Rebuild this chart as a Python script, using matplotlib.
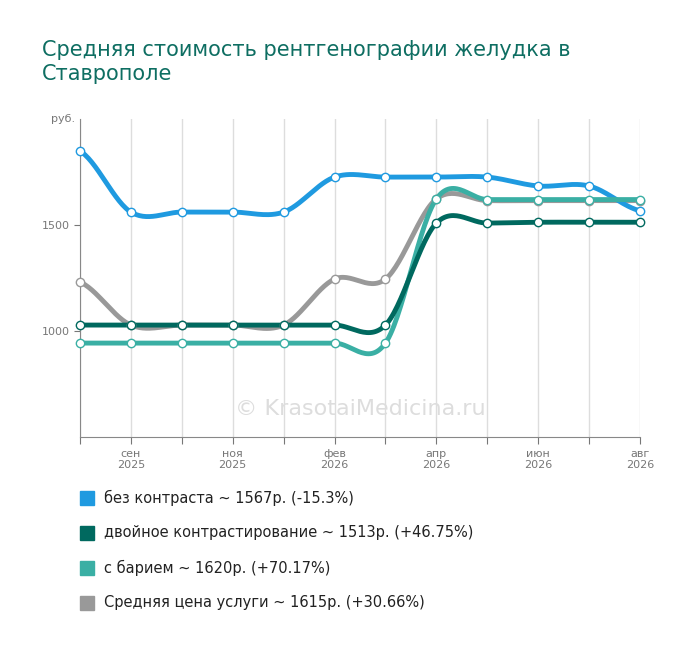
import numpy as np
import matplotlib
matplotlib.use("Agg")
import matplotlib.pyplot as plt

tick_labels = ["", "сен\n2025", "", "ноя\n2025", "", "фев\n2026", "", "апр\n2026", "", "июн\n2026", "", "авг\n2026"]
bez = [1849, 1561, 1561, 1561, 1561, 1726, 1726, 1726, 1726, 1684, 1684, 1567]
dvoin = [1028, 1028, 1028, 1028, 1028, 1028, 1028, 1509, 1509, 1513, 1513, 1513]
bariy = [943, 943, 943, 943, 943, 943, 943, 1623, 1620, 1620, 1620, 1620]
sred = [1231, 1028, 1028, 1028, 1028, 1245, 1245, 1623, 1615, 1615, 1615, 1615]
names = ["без контраста ~ 1567р. (-15.3%)", "двойное контрастирование ~ 1513р. (+46.75%)",
         "с барием ~ 1620р. (+70.17%)", "Средняя цена услуги ~ 1615р. (+30.66%)"]
colors = ["#1f9ae0", "#00695f", "#3aafa4", "#999999"]

def smooth(y, n=30):
    y = np.asarray(y, float)
    p = np.concatenate([[y[0]], y, [y[-1]]])
    xs, ys = [], []
    for i in range(len(y) - 1):
        p0, p1, p2, p3 = p[i], p[i+1], p[i+2], p[i+3]
        t = np.linspace(0, 1, n, endpoint=False)
        ys.append(0.5*((2*p1) + (-p0+p2)*t + (2*p0-5*p1+4*p2-p3)*t**2 + (-p0+3*p1-3*p2+p3)*t**3))
        xs.append(i + t)
    xs.append([len(y)-1]); ys.append([y[-1]])
    return np.concatenate(xs), np.concatenate(ys)

fig = plt.figure(figsize=(7, 6.5), dpi=100)
ax = fig.add_axes([80/700, 1-437/650, 560/700, 318/650])
x = np.arange(len(bez))
for xi in x:
    ax.axvline(xi, color="#dddddd", lw=1, zorder=0)
for s, c, z in [(sred, colors[3], 2), (bez, colors[0], 3), (bariy, colors[2], 4), (dvoin, colors[1], 5)]:
    xs, ys = smooth(s)
    ax.plot(xs, ys, color=c, lw=3.5, zorder=z, solid_capstyle="round", clip_on=False)
    ax.plot(x, s, "o", ms=6, mfc="white", mec=c, mew=1, zorder=z+10, clip_on=False)
ax.set_xlim(0, 11)
ax.set_ylim(500, 2000)
ax.set_yticks([1000, 1500])
ax.set_xticks(x)
ax.set_xticklabels(tick_labels)
ax.tick_params(axis="both", labelsize=8, colors="#777777", length=4)
ax.tick_params(axis="x", length=5)
for sp in ["top", "right"]:
    ax.spines[sp].set_visible(False)
for sp in ["left", "bottom"]:
    ax.spines[sp].set_color("#888888")
ax.text(-0.1, 2000, "руб.", fontsize=8, color="#777777", ha="right", va="center")
ax.text(5.5, 630, "© KrasotaiMedicina.ru", fontsize=16, color="#dddddd", ha="center", va="center", zorder=1)

fig.text(42/700, 1-62/650, "Средняя стоимость рентгенографии желудка в\nСтаврополе", fontsize=15,
         color="#0e6e62", va="center", ha="left", linespacing=1.2)
for i, (n, c) in enumerate(zip(names, colors)):
    yy = 1 - (498 + i*35)/650
    fig.patches.append(plt.Rectangle((80/700, yy - 7/650), 14/700, 14/650, color=c, transform=fig.transFigure))
    fig.text(104/700, yy, n, fontsize=10.5, va="center", ha="left", color="#222222")
fig.savefig("out.png")
